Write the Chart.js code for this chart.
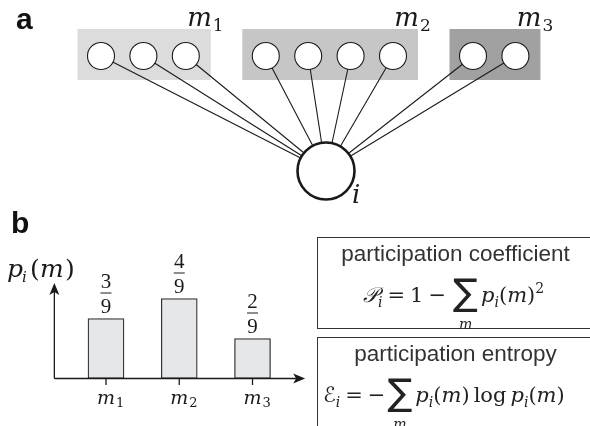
<!DOCTYPE html>
<html>
<head>
<meta charset="utf-8">
<script src="https://cdn.jsdelivr.net/npm/chart.js@4.4.1/dist/chart.umd.min.js"></script>
<style>
    body { margin: 0; background: #fff; }
    #page { position: relative; width: 590px; height: 426px; overflow: hidden; background: #fff; }
    canvas { position: absolute; }
    #netChart { left: 0; top: 0; }
    #barChart { left: 0; top: 200px; }
    .panel { position: absolute; font: bold 30px "Liberation Sans", Arial, sans-serif; line-height: 30px; color: #111; }
    .box { position: absolute; left: 317px; width: 320px; border: 1px solid #333; border-right: none; }
    .title { position: absolute; left: 316px; width: 279px; text-align: center; font: 22.5px "Liberation Sans", Arial, sans-serif; line-height: 22.5px; color: #333; white-space: nowrap; }
    .eq { position: absolute; display: flex; align-items: baseline; white-space: nowrap; font: 21px "DejaVu Serif", serif; line-height: 21px; color: #222; }
    .eq .v { font-style: italic; }
    .eq .cal { font-family: "DejaVu Sans", serif; font-style: italic; }
    .eq .sb { font-size: 14px; position: relative; top: 5px; font-style: italic; }
    .eq .sp { font-size: 14px; position: relative; top: -9px; }
    .eq .op { margin: 0 5px; }
    .eq .sum { display: inline-flex; flex-direction: column; align-items: center; position: relative; top: 3px; margin: 0 3px 0 2px; }
    .eq .sig { font-family: "DejaVu Sans", serif; font-size: 37px; line-height: 34px; }
    .eq .under { font-size: 14px; line-height: 14px; font-style: italic; position: relative; top: 7px; }
</style>
</head>
<body>
<div id="page">
    <canvas id="netChart" width="590" height="240"></canvas>
    <canvas id="barChart" width="310" height="226"></canvas>
    <div class="panel" style="left:16px;top:4px">a</div>
    <div class="panel" style="left:11px;top:208px">b</div>

    <div class="box" style="top:237px;height:90px"></div>
    <div class="box" style="top:337px;height:120px"></div>
    <div class="title" style="top:243px">participation coefficient</div>
    <div class="title" style="top:343px">participation entropy</div>
    <div class="eq" style="left:363px;top:273px">
        <span class="cal">𝒫</span><span class="sb">i</span><span class="op">=</span><span>1</span><span class="op">−</span>
        <span class="sum"><span class="sig">∑</span><span class="under">m</span></span>
        <span class="v">p</span><span class="sb">i</span><span>(</span><span class="v">m</span><span>)</span><span class="sp">2</span>
    </div>
    <div class="eq" style="left:323px;top:373px">
        <span class="cal">ℰ</span><span class="sb">i</span><span class="op">=</span><span>−</span>
        <span class="sum"><span class="sig">∑</span><span class="under">m</span></span>
        <span class="v">p</span><span class="sb">i</span><span>(</span><span class="v">m</span><span>)</span><span style="margin:0 4px">log</span><span class="v">p</span><span class="sb">i</span><span>(</span><span class="v">m</span><span>)</span>
    </div>
</div>
<script>
// modules of the network around node i
const modules = ['1', '2', '3'];
const moduleSizes = [3, 4, 2];
const moduleFills = ['#dcdcdc', '#c6c6c6', '#a1a1a1'];

// p_i(m) = share of i's links into module m
const probValues = [3 / 9, 4 / 9, 2 / 9];
const fracLabels = [['3', '9'], ['4', '9'], ['2', '9']];

const INK = '#1a1a1a';
const MATH_IT = 'italic 26px "DejaVu Serif", serif';

// --- panel a: network drawn on a 1:1 linear scale ---
const firstNodeX = 101, nodeStep = 42.4, moduleGap = 80, nodeY = 56;
const hub = { x: 326, y: 171 };
const leafNodes = [];
const moduleBoxes = [];
let cx = firstNodeX;
moduleSizes.forEach((n, k) => {
    const start = cx;
    for (let j = 0; j < n; j++) {
        leafNodes.push({ x: cx, y: nodeY });
        if (j < n - 1) cx += nodeStep;
    }
    moduleBoxes.push({ from: start - 23.5, to: cx + 25, fill: moduleFills[k], name: modules[k] });
    cx += moduleGap;
});

const edgeSets = leafNodes.map(p => ({
    type: 'scatter', data: [p, hub], showLine: true, pointRadius: 0,
    borderColor: INK, borderWidth: 1.1, order: 2
}));

const boxPlugin = {
    id: 'modBoxes',
    beforeDatasetsDraw(chart) {
        const { ctx, scales: { x, y } } = chart;
        ctx.save();
        moduleBoxes.forEach(b => {
            ctx.fillStyle = b.fill;
            const x0 = x.getPixelForValue(b.from), x1 = x.getPixelForValue(b.to);
            const y0 = y.getPixelForValue(29), y1 = y.getPixelForValue(80);
            ctx.fillRect(x0, y0, x1 - x0, y1 - y0);
        });
        ctx.restore();
    },
    afterDatasetsDraw(chart) {
        const { ctx, scales: { x, y } } = chart;
        ctx.save();
        ctx.fillStyle = INK;
        moduleBoxes.forEach(b => {
            const xr = x.getPixelForValue(b.to);
            ctx.font = MATH_IT;
            ctx.textAlign = 'right';
            ctx.fillText('m', xr + 1, y.getPixelForValue(26));
            ctx.font = '17px "DejaVu Serif", serif';
            ctx.textAlign = 'left';
            ctx.fillText(b.name, xr + 2, y.getPixelForValue(31));
        });
        ctx.font = MATH_IT;
        ctx.textAlign = 'left';
        ctx.fillText('i', x.getPixelForValue(hub.x + 26), y.getPixelForValue(203));
        ctx.restore();
    }
};

new Chart(document.getElementById('netChart'), {
    type: 'scatter',
    data: {
        datasets: [
            { data: leafNodes, pointRadius: 13.5, pointBackgroundColor: '#fff', pointBorderColor: INK, pointBorderWidth: 1.1, order: 0 },
            { data: [hub], pointRadius: 28.5, pointBackgroundColor: '#fff', pointBorderColor: INK, pointBorderWidth: 2.6, order: 0 },
            ...edgeSets
        ]
    },
    options: {
        responsive: false, animation: false, events: [],
        layout: { padding: 0, autoPadding: false },
        plugins: { legend: { display: false }, tooltip: { enabled: false } },
        scales: {
            x: { type: 'linear', min: 0, max: 590, display: false },
            y: { type: 'linear', min: 0, max: 240, reverse: true, display: false }
        }
    },
    plugins: [boxPlugin]
});

// --- panel b: bar chart of p_i(m) ---
const axesPlugin = {
    id: 'arrowAxes',
    afterDatasetsDraw(chart) {
        const { ctx, chartArea: a, scales: { x, y } } = chart;
        const y0 = y.getPixelForValue(0);
        const ax = a.left - 15;
        const tipX = a.right + 16;
        ctx.save();
        ctx.strokeStyle = INK;
        ctx.fillStyle = INK;
        ctx.lineWidth = 1.3;
        ctx.beginPath();
        ctx.moveTo(ax, y0); ctx.lineTo(tipX - 6, y0);
        ctx.moveTo(ax, y0); ctx.lineTo(ax, a.top + 6);
        ctx.stroke();
        // arrow heads
        ctx.beginPath();
        ctx.moveTo(tipX, y0); ctx.lineTo(tipX - 12, y0 - 5); ctx.lineTo(tipX - 9, y0); ctx.lineTo(tipX - 12, y0 + 5);
        ctx.closePath(); ctx.fill();
        ctx.beginPath();
        ctx.moveTo(ax, a.top); ctx.lineTo(ax - 5, a.top + 12); ctx.lineTo(ax, a.top + 9); ctx.lineTo(ax + 5, a.top + 12);
        ctx.closePath(); ctx.fill();

        // ticks and category labels
        modules.forEach((m, i) => {
            const px = x.getPixelForValue(i);
            ctx.beginPath();
            ctx.moveTo(px, y0); ctx.lineTo(px, y0 + 6.5);
            ctx.stroke();
            ctx.font = 'italic 19px "DejaVu Serif", serif';
            ctx.textAlign = 'center';
            ctx.fillText('m', px, y0 + 25.5);
            ctx.font = '13px "DejaVu Serif", serif';
            ctx.textAlign = 'left';
            ctx.fillText(m, px + 10, y0 + 28);
        });

        // fraction labels above the bars
        const meta = chart.getDatasetMeta(0);
        meta.data.forEach((bar, i) => {
            const top = bar.y;
            ctx.font = '21px "Liberation Serif", serif';
            ctx.textAlign = 'center';
            ctx.fillText(fracLabels[i][0], bar.x, top - 31);
            ctx.fillText(fracLabels[i][1], bar.x, top - 6);
            ctx.lineWidth = 1;
            ctx.beginPath();
            ctx.moveTo(bar.x - 5.5, top - 25.5); ctx.lineTo(bar.x + 5.5, top - 25.5);
            ctx.stroke();
        });

        // y title p_i(m)
        ctx.textAlign = 'left';
        ctx.font = 'italic 25px "DejaVu Serif", serif';
        ctx.fillText('p', 7, 77);
        ctx.font = 'italic 15px "DejaVu Serif", serif';
        ctx.fillText('i', 22, 82);
        ctx.font = '25px "DejaVu Serif", serif';
        ctx.fillText('(', 30, 77);
        ctx.font = 'italic 25px "DejaVu Serif", serif';
        ctx.fillText('m', 40, 77);
        ctx.font = '25px "DejaVu Serif", serif';
        ctx.fillText(')', 65, 77);
        ctx.restore();
    }
};

new Chart(document.getElementById('barChart'), {
    type: 'bar',
    data: {
        labels: modules,
        datasets: [{
            data: probValues,
            backgroundColor: '#e6e7e9',
            borderColor: '#333',
            borderWidth: 1.3,
            borderSkipped: false,
            barThickness: 36
        }]
    },
    options: {
        responsive: false, animation: false, events: [],
        layout: { padding: { left: 69.35, right: 20.85, top: 83, bottom: 47.5 }, autoPadding: false },
        plugins: { legend: { display: false }, tooltip: { enabled: false } },
        scales: {
            x: { display: false },
            y: { display: false, min: 0, max: 0.5306 }
        }
    },
    plugins: [axesPlugin]
});
</script>
</body>
</html>
